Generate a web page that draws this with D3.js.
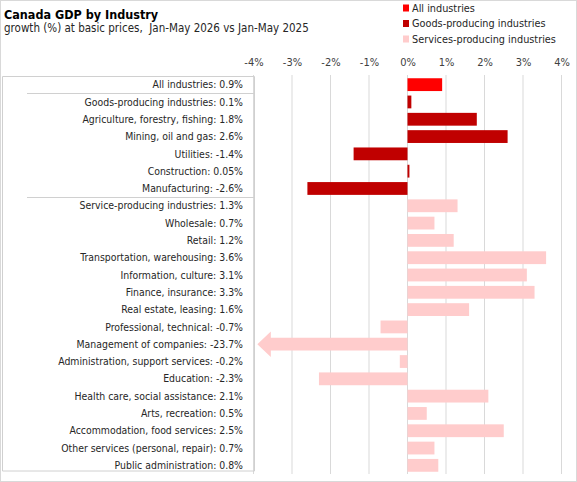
<!DOCTYPE html>
<html>
<head>
<meta charset="utf-8">
<script src="https://cdn.jsdelivr.net/npm/d3@7"></script>
<style>
  body { margin: 0; background: #fff; }
  svg { display: block; font-family: "DejaVu Sans Condensed", "DejaVu Sans", sans-serif; font-stretch: condensed; }
</style>
</head>
<body>
<svg id="chart" width="577" height="482"></svg>
<script>
// Canada GDP by industry, growth Jan-May 2026 vs Jan-May 2025
var industries = [
    "All industries", "Goods-producing industries", "Agriculture, forestry, fishing",
    "Mining, oil and gas", "Utilities", "Construction", "Manufacturing",
    "Service-producing industries", "Wholesale", "Retail", "Transportation, warehousing",
    "Information, culture", "Finance, insurance", "Real estate, leasing",
    "Professional, technical", "Management of companies", "Administration, support services",
    "Education", "Health care, social assistance", "Arts, recreation",
    "Accommodation, food services", "Other services (personal, repair)", "Public administration"
];
var growth = [0.9, 0.1, 1.8, 2.6, -1.4, 0.05, -2.6, 1.3, 0.7, 1.2, 3.6, 3.1, 3.3, 1.6,
    -0.7, -23.7, -0.2, -2.3, 2.1, 0.5, 2.5, 0.7, 0.8];
var groups = ["all", "goods", "goods", "goods", "goods", "goods", "goods",
    "services", "services", "services", "services", "services", "services", "services",
    "services", "services", "services", "services", "services", "services",
    "services", "services", "services"];
var seriesNames = ["All industries", "Goods-producing industries", "Services-producing industries"];
var seriesKeys = ["all", "goods", "services"];
var xTicks = [-4, -3, -2, -1, 0, 1, 2, 3, 4];

var colors = { all: "#ff0000", goods: "#c00000", services: "#ffcccc" };

var svg = d3.select("#chart"),
    width = 577,
    height = 482,
    plotTop = 76,
    plotBottom = 474,
    labelRight = 254,
    plotLeft = 253.5,
    plotRight = 561.5;

var data = industries.map(function(name, i) {
    return { name: name, value: growth[i], group: groups[i] };
});

function fmt(v) {
    return (v === 0.05 ? "0.05" : v.toFixed(1)) + "%";
}

var x = d3.scaleLinear().domain([-4, 4]).range([plotLeft, plotRight]);
var y = d3.scaleBand().domain(industries).range([plotTop, plotBottom]).paddingInner(0.26).paddingOuter(0.13);

// outer border
svg.append("rect")
    .attr("x", 0.5).attr("y", 0.5)
    .attr("width", width - 1).attr("height", height - 1)
    .attr("fill", "none").attr("stroke", "#d9d9d9");

// title
svg.append("text")
    .attr("x", 4).attr("y", 19)
    .attr("font-size", 12.5).attr("font-weight", "bold")
    .attr("fill", "#000")
    .text("Canada GDP by Industry");

svg.append("text")
    .attr("x", 4).attr("y", 32)
    .attr("font-size", 11.5).attr("fill", "#262626")
    .attr("xml:space", "preserve")
    .text("growth (%) at basic prices,  Jan-May 2026 vs Jan-May 2025");

// legend
var legend = svg.append("g").selectAll("g")
    .data(seriesKeys)
    .enter().append("g")
    .attr("transform", function(d, i) { return "translate(403," + (8 + i * 15.5) + ")"; });

legend.append("rect")
    .attr("x", 0).attr("y", -3.5)
    .attr("width", 6).attr("height", 7)
    .attr("fill", function(d) { return colors[d]; });

legend.append("text")
    .attr("x", 9).attr("y", 0).attr("dy", ".35em")
    .attr("font-size", 10.8).attr("fill", "#262626")
    .text(function(d, i) { return seriesNames[i]; });

// gridlines
svg.append("g").selectAll("line")
    .data(xTicks)
    .enter().append("line")
    .attr("x1", function(d) { return x(d); })
    .attr("x2", function(d) { return x(d); })
    .attr("y1", plotTop - 1).attr("y2", plotBottom)
    .attr("stroke", "#d9d9d9");

// top axis labels
var axis = svg.append("g")
    .attr("transform", "translate(0,66)")
    .call(d3.axisTop(x).tickValues(xTicks).tickSize(0).tickPadding(0)
        .tickFormat(function(d) { return d + "%"; }));
axis.select(".domain").remove();
axis.attr("font-family", null);
axis.selectAll("text")
    .attr("font-size", 11).attr("fill", "#404040");

// label box
var boxColor = "#d0d0d0";
svg.append("path")
    .attr("d", "M2.5," + (plotTop + 0.5) + "H" + (labelRight + 0.5) + "V" + (plotBottom - 3) + "H2.5Z")
    .attr("fill", "none").attr("stroke", boxColor);

[industries[0], industries[6]].forEach(function(name) {
    var yy = Math.round(y(name) + y.bandwidth() + y.step() * y.paddingInner() / 2) + 0.5;
    svg.append("line")
        .attr("x1", 27).attr("x2", labelRight + 0.5)
        .attr("y1", yy).attr("y2", yy)
        .attr("stroke", boxColor);
});

// category labels
svg.append("g").selectAll("text")
    .data(data)
    .enter().append("text")
    .attr("x", 243)
    .attr("y", function(d) { return y(d.name) + y.bandwidth() / 2; })
    .attr("dy", ".35em")
    .attr("text-anchor", "end")
    .attr("font-size", 10.4).attr("fill", "#262626")
    .text(function(d) { return d.name + ": " + fmt(d.value); });

// bars (values beyond the axis get an arrow)
var minShown = -3.9, headStart = -3.55;
var bars = svg.append("g");

bars.selectAll("rect")
    .data(data.filter(function(d) { return d.value >= -4; }))
    .enter().append("rect")
    .attr("x", function(d) { return x(Math.min(0, d.value)); })
    .attr("y", function(d) { return y(d.name); })
    .attr("width", function(d) { return Math.abs(x(d.value) - x(0)); })
    .attr("height", y.bandwidth())
    .attr("fill", function(d) { return colors[d.group]; });

bars.selectAll("path")
    .data(data.filter(function(d) { return d.value < -4; }))
    .enter().append("path")
    .attr("d", function(d) {
        var y0 = y(d.name), h = y.bandwidth(), mid = y0 + h / 2, hh = h;
        return "M" + x(0) + "," + y0 +
            "H" + x(headStart) + "V" + (mid - hh) +
            "L" + x(minShown) + "," + mid +
            "L" + x(headStart) + "," + (mid + hh) +
            "V" + (y0 + h) + "H" + x(0) + "Z";
    })
    .attr("fill", function(d) { return colors[d.group]; });
</script>
</body>
</html>
